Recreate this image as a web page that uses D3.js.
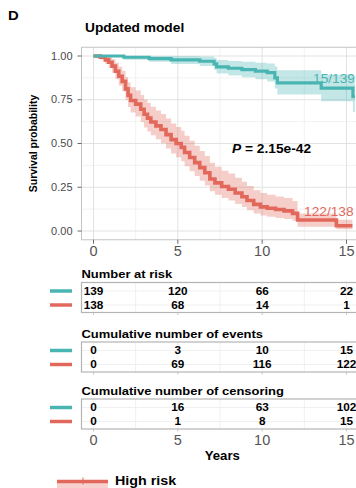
<!DOCTYPE html>
<html>
<head>
<meta charset="utf-8">
<script src="https://cdn.jsdelivr.net/npm/d3@7"></script>
<style>
  html, body { margin: 0; padding: 0; background: #fff; overflow: hidden; }
  svg { display: block; font-family: "Liberation Sans", Arial, Helvetica, sans-serif; }
</style>
</head>
<body>
<div id="km"></div>
<script>
// KM curves: step times (years) with survival and CI bounds
const highTime  = [0, 0.4, 0.7, 0.9, 1.1, 1.3, 1.5, 1.7, 1.9, 2.05, 2.2, 2.5, 2.8, 3.0, 3.2, 3.4, 3.7, 4.0, 4.3, 4.6, 4.9, 5.2, 5.4, 5.7, 6.0, 6.3, 6.6, 6.9, 7.2, 7.6, 8.0, 8.4, 8.8, 9.1, 9.5, 9.9, 10.3, 10.8, 11.3, 11.8, 12.1, 14.4, 15.35];
const highSurv  = [1, .993, .978, .964, .942, .913, .884, .855, .812, .775, .746, .725, .696, .667, .645, .623, .601, .580, .551, .522, .500, .478, .449, .420, .391, .362, .333, .297, .275, .254, .239, .217, .196, .174, .152, .138, .130, .123, .115, .101, .063, .030, .030];
const highLower = [1, .979, .954, .933, .904, .867, .832, .798, .749, .708, .677, .654, .623, .592, .569, .547, .524, .502, .472, .443, .421, .399, .370, .342, .315, .287, .260, .227, .207, .188, .174, .155, .137, .118, .100, .088, .081, .075, .069, .058, .025, .010, .010];
const highUpper = [1, 1, 1, .995, .982, .961, .939, .916, .880, .848, .822, .803, .777, .751, .731, .710, .689, .669, .643, .615, .594, .573, .545, .516, .487, .457, .428, .390, .367, .344, .328, .304, .281, .257, .233, .217, .207, .197, .188, .172, .100, .065, .065];

const lowTime  = [0, 1.8, 3.3, 4.6, 6.3, 7.15, 7.3, 8.0, 8.8, 9.6, 10.3, 10.75, 10.9, 13.5, 15.38, 15.5];
const lowSurv  = [1, .993, .985, .978, .970, .955, .938, .930, .922, .914, .905, .875, .846, .816, .768, .768];
const lowLower = [1, .979, .967, .955, .943, .922, .900, .889, .878, .867, .854, .814, .780, .742, .680, .680];
const lowUpper = [1, 1, 1, 1, .997, .989, .977, .972, .967, .962, .957, .940, .918, .895, .860, .860];

// Risk tables
const tableTimes = [0, 5, 10, 15];
const riskLow = [139, 120, 66, 22];
const riskHigh = [138, 68, 14, 1];
const eventsLow = [0, 3, 10, 15];
const eventsHigh = [0, 69, 116, 122];
const censLow = [0, 16, 63, 102];
const censHigh = [0, 1, 8, 15];

const yTicks = [0, 0.25, 0.5, 0.75, 1];
const xTicks = [0, 5, 10, 15];

const teal = "#48b5b3";
const red = "#e2685c";
const SX = 1.1; // glyphs in the picture are a bit wider than Liberation Sans

const W = 356, H = 488;
const svg = d3.select("#km").append("svg")
  .attr("width", W)
  .attr("height", H);

// scales
const x = d3.scaleLinear().domain([0, 15]).range([93.5, 346.5]);
const y = d3.scaleLinear().domain([0, 1]).range([231, 56]);
const panelLeft = 81.5, panelRight = 363;
const panelTop = y(1.05), panelBottom = y(-0.05);

function label(sel, px, py, str, o = {}) {
  return sel.append("text")
    .attr("transform", `translate(${px},${py}) scale(${o.sx || SX},1)`)
    .attr("text-anchor", o.anchor || "start")
    .style("font-size", (o.size || 10) + "px")
    .style("font-weight", o.weight || "normal")
    .attr("fill", o.color || "#000")
    .text(str);
}

// titles
label(svg, 8, 20, "D", { size: 13.5, weight: "bold" });
label(svg, 85, 32, "Updated model", { size: 12.5, weight: "bold" });

// panel grid
const grid = svg.append("g");
const minorX = [2.5, 7.5, 12.5];
const minorY = [0.125, 0.375, 0.625, 0.875];
grid.selectAll("line.mx").data(minorX).join("line")
  .attr("x1", d => x(d)).attr("x2", d => x(d))
  .attr("y1", panelTop).attr("y2", panelBottom)
  .attr("stroke", "#ededed").attr("stroke-width", 0.7);
grid.selectAll("line.my").data(minorY).join("line")
  .attr("x1", panelLeft).attr("x2", panelRight)
  .attr("y1", d => y(d)).attr("y2", d => y(d))
  .attr("stroke", "#ededed").attr("stroke-width", 0.7);
grid.selectAll("line.gx").data(xTicks).join("line")
  .attr("x1", d => x(d)).attr("x2", d => x(d))
  .attr("y1", panelTop).attr("y2", panelBottom)
  .attr("stroke", "#e2e2e2").attr("stroke-width", 1);
grid.selectAll("line.gy").data(yTicks).join("line")
  .attr("x1", panelLeft).attr("x2", panelRight)
  .attr("y1", d => y(d)).attr("y2", d => y(d))
  .attr("stroke", "#e2e2e2").attr("stroke-width", 1);

// curves
const band = d3.area().curve(d3.curveStepAfter)
  .x(d => x(d.t)).y0(d => y(d.lo)).y1(d => y(d.hi));
const line = d3.line().curve(d3.curveStepAfter)
  .x(d => x(d.t)).y(d => y(d.s));

const series = [
  { color: red, width: 3.6, pts: highTime.map((t, i) => ({ t, s: highSurv[i], lo: highLower[i], hi: highUpper[i] })) },
  { color: teal, width: 3.2, pts: lowTime.map((t, i) => ({ t, s: lowSurv[i], lo: lowLower[i], hi: lowUpper[i] })) }
];

const curves = svg.append("g");
series.forEach(sr => {
  curves.append("path").attr("d", band(sr.pts))
    .attr("fill", sr.color).attr("fill-opacity", 0.33);
});
series.forEach(sr => {
  curves.append("path").attr("d", line(sr.pts))
    .attr("fill", "none").attr("stroke", sr.color)
    .attr("stroke-width", sr.width);
});

// panel border
svg.append("rect")
  .attr("x", panelLeft).attr("y", panelTop)
  .attr("width", panelRight - panelLeft).attr("height", panelBottom - panelTop)
  .attr("fill", "none").attr("stroke", "#c4c4c4").attr("stroke-width", 1);

// axes
const yAxis = svg.append("g");
yTicks.forEach(v => {
  yAxis.append("line")
    .attr("x1", panelLeft - 4).attr("x2", panelLeft)
    .attr("y1", y(v)).attr("y2", y(v))
    .attr("stroke", "#444").attr("stroke-width", 0.8);
  label(yAxis, 72.5, y(v) + 3.6, d3.format(".2f")(v), { size: 10, anchor: "end", color: "#4a4a4a" });
});
yAxis.append("text")
  .attr("transform", `translate(36.5,${(panelTop + panelBottom) / 2}) rotate(-90)`)
  .attr("text-anchor", "middle")
  .style("font-size", "10.5px").style("font-weight", "bold")
  .text("Survival probability");

xTicks.forEach(v => {
  svg.append("line")
    .attr("x1", x(v)).attr("x2", x(v))
    .attr("y1", panelBottom).attr("y2", panelBottom + 4)
    .attr("stroke", "#444").attr("stroke-width", 0.8);
  label(svg, x(v), 256, v, { size: 14.5, anchor: "middle", color: "#555", sx: 1 });
});

// annotations
const pText = svg.append("text")
  .attr("transform", `translate(232,153) scale(${SX},1)`)
  .style("font-size", "12.5px").style("font-weight", "bold");
pText.append("tspan").style("font-style", "italic").text("P");
pText.append("tspan").text(" = 2.15e-42");

label(svg, 313, 83, "15/139", { size: 12.5, color: teal });
label(svg, 304, 216, "122/138", { size: 12.5, color: red });

// tables
const tables = [
  { title: "Number at risk", top: 282.5, rows: [riskLow, riskHigh] },
  { title: "Cumulative number of events", top: 342, rows: [eventsLow, eventsHigh] },
  { title: "Cumulative number of censoring", top: 399, rows: [censLow, censHigh] }
];
const rowOffset = [8.5, 22.5];
const rowColor = [teal, red];

tables.forEach(tb => {
  const g = svg.append("g");
  const bottom = tb.top + 30;
  label(g, panelLeft, tb.top - 4.5, tb.title, { size: 11.8, weight: "bold" });
  [0, 2.5, 5, 7.5, 10, 12.5, 15].forEach(v => {
    g.append("line")
      .attr("x1", x(v)).attr("x2", x(v))
      .attr("y1", tb.top).attr("y2", bottom)
      .attr("stroke", "#ececec").attr("stroke-width", 0.8);
  });
  rowOffset.forEach(o => {
    g.append("line")
      .attr("x1", panelLeft).attr("x2", panelRight)
      .attr("y1", tb.top + o).attr("y2", tb.top + o)
      .attr("stroke", "#ececec").attr("stroke-width", 0.8);
  });
  g.append("rect")
    .attr("x", panelLeft).attr("y", tb.top)
    .attr("width", panelRight - panelLeft).attr("height", 30)
    .attr("fill", "none").attr("stroke", "#b4b4b4").attr("stroke-width", 1.2);
  xTicks.forEach(v => {
    g.append("line")
      .attr("x1", x(v)).attr("x2", x(v))
      .attr("y1", bottom).attr("y2", bottom + 2.5)
      .attr("stroke", "#bbb").attr("stroke-width", 0.8);
  });
  tb.rows.forEach((vals, r) => {
    const cy = tb.top + rowOffset[r];
    g.append("line")
      .attr("x1", 50).attr("x2", 72)
      .attr("y1", cy).attr("y2", cy)
      .attr("stroke", rowColor[r]).attr("stroke-width", 3.5);
    vals.forEach((v, i) => {
      label(g, x(tableTimes[i]), cy + 3.9, v, { size: 10.7, weight: "bold", anchor: "middle" });
    });
  });
});

xTicks.forEach(v => {
  label(svg, x(v), 445, v, { size: 14.5, anchor: "middle", color: "#555", sx: 1 });
});
label(svg, (panelLeft + panelRight) / 2, 460, "Years", { size: 12, weight: "bold", anchor: "middle" });

// legend
const leg = svg.append("g");
leg.append("rect")
  .attr("x", 57).attr("y", 483).attr("width", 51).attr("height", 5)
  .attr("fill", red).attr("fill-opacity", 0.3);
leg.append("line")
  .attr("x1", 57).attr("x2", 108).attr("y1", 481.5).attr("y2", 481.5)
  .attr("stroke", red).attr("stroke-width", 3.4);
leg.append("line")
  .attr("x1", 83).attr("x2", 83).attr("y1", 477.5).attr("y2", 484.5)
  .attr("stroke", red).attr("stroke-width", 1);
label(leg, 115, 485, "High risk", { size: 13, weight: "bold" });
</script>
</body>
</html>
